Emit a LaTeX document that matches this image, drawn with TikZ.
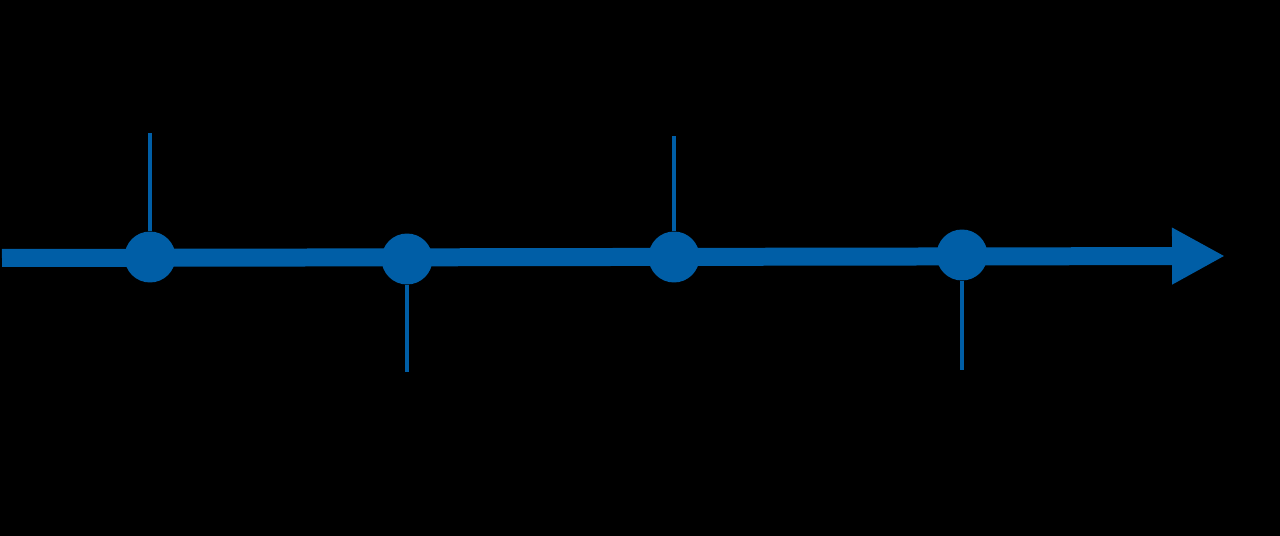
\documentclass[tikz,border=0pt]{standalone}
\usetikzlibrary{arrows.meta}
\definecolor{tlblue}{RGB}{0,94,166}
\tikzset{
  dotnode/.style={circle, fill=tlblue, inner sep=0pt, minimum size=1.02cm},
  mainline/.style={draw=tlblue, line width=0.36cm, -{Triangle[length=1.06cm,width=1.06cm]}},
  stem/.style={draw=tlblue, line width=0.07cm}
}
\begin{document}
\begin{tikzpicture}[x=0.02cm,y=-0.02cm]
\fill[black] (0,0) rectangle (1280,536);
\useasboundingbox (0,0) rectangle (1280,536);
\coordinate (start) at (2,258);
\coordinate (tip) at (1225,256);
\coordinate (s1) at (150,133);
\coordinate (s2) at (407,372);
\coordinate (s3) at (674,136);
\coordinate (s4) at (962,370);
\draw[mainline] (start) -- (tip);
\node[dotnode] (d1) at (150,257) {};
\node[dotnode] (d2) at (407,259) {};
\node[dotnode] (d3) at (674,257) {};
\node[dotnode] (d4) at (962,255) {};
\draw[stem] (d1.north) -- (s1);
\draw[stem] (d2.south) -- (s2);
\draw[stem] (d3.north) -- (s3);
\draw[stem] (d4.south) -- (s4);
\end{tikzpicture}
\end{document}
